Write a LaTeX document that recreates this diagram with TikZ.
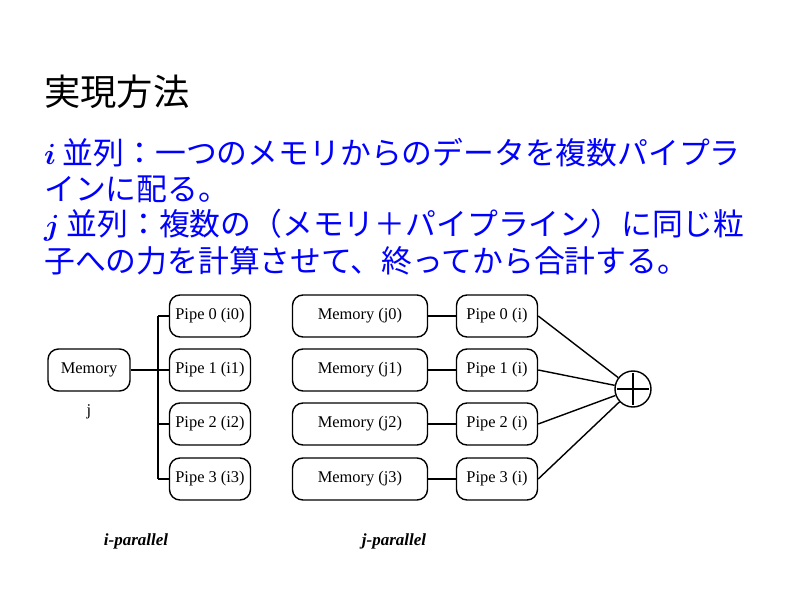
\documentclass[tikz,border=0pt]{standalone}
\usepackage{bm}
\usepackage{fontspec}
\setmainfont{Liberation Serif}
\newfontfamily\jpfont{Noto Sans CJK JP}
\usetikzlibrary{calc}
\tikzset{
	unitbox/.style={draw=black,line width=1.2pt,rounded corners=9pt,minimum height=1.26cm,inner sep=0pt,font=\fontsize{14}{16}\selectfont},
	pipebox/.style={unitbox,minimum width=2.43cm},
	membox/.style={unitbox,minimum width=4.05cm},
	wire/.style={line width=1.2pt},
	jptext/.style={anchor=west,inner sep=0pt,text=blue,font=\jpfont\fontsize{26.3}{30}\selectfont},
	caption/.style={font=\fontsize{14.5}{16}\selectfont\bfseries\itshape},
}
\begin{document}
\begin{tikzpicture}[x=0.03cm,y=-0.03cm]
		\useasboundingbox (0,0) rectangle (800,600);
		\node[anchor=west,inner sep=0pt,font=\jpfont\fontsize{31}{36}\selectfont] (title) at (44,92) {実現方法};
		\node[jptext] (l1) at (44,153) {$\bm{i}$ 並列：一つのメモリからのデータを複数パイプラ};
		\node[jptext] (l2) at (44,189) {インに配る。};
		\node[jptext] (l3) at (44,225) {$\bm{j}$ 並列：複数の（メモリ＋パイプライン）に同じ粒};
		\node[jptext] (l4) at (44,261) {子への力を計算させて、終ってから合計する。};
		% i-parallel
		\node[unitbox,minimum width=2.46cm] (mem) at (89,370) {Memory};
		\node[font=\fontsize{14}{16}\selectfont] (jlabel) at (89,412) {j};
		\coordinate (bus) at (158,370);
		\foreach \k/\y in {0/316,1/370,2/424,3/479}{
			\node[pipebox] (pi\k) at (210,\y) {Pipe \k\ (i\k)};
			\draw[wire] (bus |- pi\k.west) -- (pi\k.west);
		}
		\draw[wire] (mem) -- (bus);
		\draw[wire] (bus |- pi0.west) -- (bus |- pi3.west);
		% j-parallel
		\node[circle,draw=black,line width=1.2pt,minimum size=1.08cm,inner sep=0pt] (sum) at (633,389) {};
		\draw[line width=1pt] ($(sum.north)!0.08!(sum.south)$) -- ($(sum.south)!0.08!(sum.north)$)
			($(sum.west)!0.08!(sum.east)$) -- ($(sum.east)!0.08!(sum.west)$);
		\foreach \k/\y in {0/316,1/370,2/424,3/479}{
			\node[membox] (mj\k) at (360,\y) {Memory (j\k)};
			\node[pipebox] (pj\k) at (497,\y) {Pipe \k\ (i)};
			\draw[wire] (mj\k) -- (pj\k);
			\draw[wire] (pj\k.east) -- (sum);
		}
		\node[caption] (ipar) at (136,541) {i-parallel};
		\node[caption] (jpar) at (394,541) {j-parallel};
	\end{tikzpicture}
\end{document}
